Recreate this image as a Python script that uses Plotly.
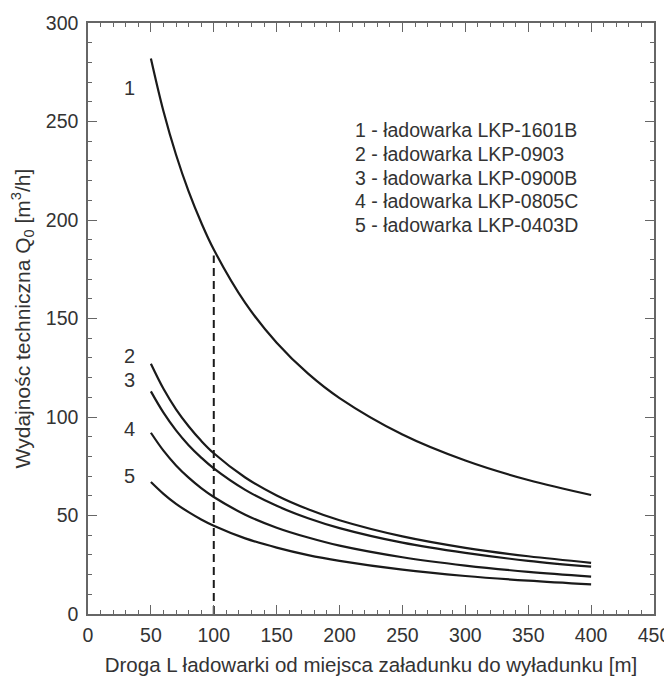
import plotly.graph_objects as go

# droga L [m]
L = [50, 60, 70, 80, 90, 100, 125, 150, 175, 200, 250, 300, 350, 400]

# wydajnosc techniczna Q0 [m3/h]
q1 = [282.0, 255.2, 233.1, 214.5, 198.7, 185.0, 157.9, 137.7, 122.0, 109.6, 91.1, 77.9, 68.0, 60.4]
q2 = [127.0, 114.3, 103.9, 95.3, 87.9, 81.6, 69.3, 60.2, 53.2, 47.6, 39.4, 33.6, 29.3, 26.0]
q3 = [113.0, 102.2, 93.2, 85.7, 79.4, 73.9, 63.0, 54.9, 48.6, 43.6, 36.2, 31.0, 27.0, 24.0]
q4 = [92.0, 82.9, 75.4, 69.2, 63.9, 59.4, 50.4, 43.8, 38.8, 34.7, 28.8, 24.6, 21.4, 19.0]
q5 = [67.0, 61.0, 55.9, 51.7, 48.0, 44.8, 38.4, 33.7, 29.9, 27.0, 22.5, 19.3, 16.9, 15.0]

curve_nums = ['1', '2', '3', '4', '5']
num_x = [33, 33, 33, 33, 33]
num_y = [267, 131, 119, 94, 70]

legend_lines = ['1 - ładowarka LKP-1601B',
                '2 - ładowarka LKP-0903',
                '3 - ładowarka LKP-0900B',
                '4 - ładowarka LKP-0805C',
                '5 - ładowarka LKP-0403D']
legend_y = [245.5, 233.5, 221.5, 209.5, 197.5]

dash_x = [100, 100]
dash_y = [0, 182]

txt = '#333333'
axc = '#666666'

fig = go.Figure()

for q in [q1, q2, q3, q4, q5]:
    fig.add_trace(go.Scatter(x=L, y=q, mode='lines',
                             line=dict(color='#1a1a1a', width=2.2, shape='spline'),
                             showlegend=False))

fig.add_trace(go.Scatter(x=dash_x, y=dash_y, mode='lines',
                         line=dict(color='#1a1a1a', width=2, dash='8px,5px'),
                         showlegend=False))

for n, xx, yy in zip(curve_nums, num_x, num_y):
    fig.add_annotation(x=xx, y=yy, text=n, showarrow=False,
                       font=dict(size=20, color=txt))

for line, yy in zip(legend_lines, legend_y):
    fig.add_annotation(x=211, y=yy, text=line, showarrow=False, xanchor='left',
                       font=dict(size=19.5, color=txt))

axis_common = dict(showline=True, linecolor=axc, linewidth=1.5, mirror='allticks',
                   ticks='inside', ticklen=9, tickwidth=1.3, tickcolor=axc,
                   showgrid=False, zeroline=False,
                   tickfont=dict(size=19.5, color=txt, family='Liberation Sans, Arial'),
                   minor=dict(ticks='inside', ticklen=4, tickwidth=1, tickcolor=axc, dtick=10))

fig.update_xaxes(range=[0, 450], dtick=50, ticklabelstandoff=3,
                 title=dict(text='Droga L ładowarki od miejsca załadunku do wyładunku [m]',
                            font=dict(size=20.5, color=txt), standoff=17),
                 **axis_common)
fig.update_yaxes(range=[0, 300], dtick=50, ticklabelstandoff=4,
                 title=dict(text='Wydajnośc techniczna Q<sub>0</sub> [m<sup>3</sup>/h]',
                            font=dict(size=21, color=txt), standoff=12),
                 **axis_common)

fig.update_layout(width=664, height=668,
                  margin=dict(l=80, r=18, t=15, b=62, autoexpand=False),
                  paper_bgcolor='white', plot_bgcolor='white',
                  font=dict(family='Liberation Sans, Arial', color=txt))

fig.write_html("out.html")
